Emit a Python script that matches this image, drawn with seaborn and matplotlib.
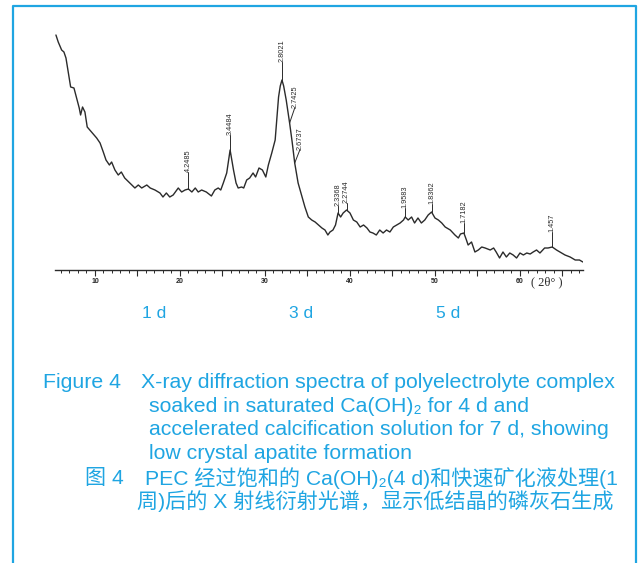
# XRD spectrum of PEC after Ca(OH)2 soak + accelerated calcification
# Recreated from a journal figure: curve, d-spacing labels, caption.

import numpy as np
import pandas as pd
import matplotlib
matplotlib.use("Agg")
import matplotlib.pyplot as plt
from matplotlib.lines import Line2D
import seaborn as sns

# ── Data ──────────────────────────────────────────────────────────────────────
two_theta = [5.41, 5.68, 6.08, 6.35, 6.59, 6.86, 7.14, 7.53, 7.84, 8.15, 8.31, 8.54,
             8.82, 9.09, 9.6, 10.2, 10.6, 10.98, 11.3, 11.7, 11.96, 12.35, 12.74, 13.1,
             13.5, 14.1, 14.7, 15.1, 15.5, 16.1, 16.5, 17.06, 17.65, 18.0, 18.4, 18.8,
             19.2, 19.8, 20.2, 20.6, 21.0, 21.4, 21.8, 22.15, 22.55, 23.1, 23.7, 24.1,
             24.5, 24.8, 25.1, 25.5, 25.9, 26.3, 26.6, 26.85, 27.25, 27.5, 27.85, 28.2,
             28.6, 28.9, 29.3, 29.7, 30.1, 30.4, 30.8, 31.2, 31.4, 31.6, 31.8, 32.0,
             32.2, 32.5, 32.9, 33.2, 33.5, 33.9, 34.3, 34.7, 35.1, 35.5, 35.9, 36.3,
             36.7, 37.06, 37.4, 37.65, 38.0, 38.3, 38.6, 38.9, 39.2, 39.6, 40.0, 40.4,
             40.8, 41.2, 41.6, 42.0, 42.35, 42.7, 43.1, 43.5, 43.9, 44.3, 44.7, 45.1,
             45.5, 45.9, 46.3, 46.5, 46.85, 47.25, 47.6, 48.0, 48.4, 48.8, 49.2, 49.6,
             50.0, 50.4, 50.8, 51.2, 51.8, 52.35, 52.75, 53.0, 53.4, 53.7, 53.9, 54.3,
             54.7, 55.1, 55.5, 55.9, 56.5, 56.9, 57.2, 57.6, 58.0, 58.4, 58.8, 59.2,
             59.6, 60.0, 60.4, 60.8, 61.2, 61.55, 61.95, 62.35, 62.9, 63.3, 63.8, 64.3,
             64.7, 65.3, 65.9, 66.5, 67.0, 67.4]
intensity = [235, 228, 220, 218, 212, 198, 183, 182, 172, 162, 155, 163,
             158, 143, 138, 132, 127, 118, 110, 105, 108, 100, 95, 98,
             92, 87, 82, 85, 82, 85, 82, 80, 77, 73, 77, 73,
             75, 82, 78, 80, 81, 78, 82, 78, 80, 78, 74, 80,
             82, 80, 87, 97, 120, 100, 87, 82, 83, 82, 90, 92,
             97, 93, 102, 100, 93, 105, 117, 130, 152, 173, 184, 190,
             184, 170, 147, 128, 107, 87, 75, 63, 53, 50, 48, 45,
             42, 40, 35, 38, 40, 45, 57, 53, 57, 60, 57, 50,
             48, 43, 45, 42, 38, 37, 35, 40, 37, 40, 38, 43,
             45, 47, 50, 53, 50, 53, 47, 52, 47, 50, 55, 58,
             52, 50, 47, 43, 40, 35, 32, 36, 37, 30, 25, 28,
             18, 20, 23, 22, 20, 22, 18, 12, 18, 13, 17, 15,
             12, 17, 15, 17, 16, 18, 20, 17, 22, 22, 23, 20,
             18, 15, 13, 10, 10, 8]

peak_d = ["4.2485", "3.4484", "2.8021", "2.7425", "2.6737", "2.3368",
          "2.2744", "1.9583", "1.8362", "1.7182", "1.457"]
peak_pos = [21.0, 25.9, 32.0, 32.9, 33.5, 38.6, 39.6, 46.5, 49.6, 53.4, 63.8]

stage_labels = ["1 d", "3 d", "5 d"]

caption_en = ["Figure 4",
              "X-ray diffraction spectra of polyelectrolyte complex",
              "soaked in saturated Ca(OH)\u2082 for 4 d and",
              "accelerated calcification solution for 7 d, showing",
              "low crystal apatite formation"]
caption_zh = ["图 4",
              "PEC 经过饱和的 Ca(OH)\u2082(4 d)和快速矿化液处理(1",
              "周)后的 X 射线衍射光谱，显示低结晶的磷灰石生成"]

# label layout: vertical rise of the leader (px) and sideways shift (deg)
label_rise = [17, 15, 18, 15, 13, 7, 7, 9, 8, 10, 15]
label_shift = [0, 0, 0, 0.6, 0.6, 0, 0, 0, 0, 0, 0]

BLUE = "#1FA5E2"
INK = "#2b2b2b"
W, H = 638, 563

sns.set_style("white")
plt.rcParams["font.family"] = ["Liberation Sans", "Noto Sans CJK SC", "DejaVu Sans"]

df = pd.DataFrame({"two_theta": two_theta, "intensity": intensity})

fig = plt.figure(figsize=(W / 100, H / 100), dpi=100)
ax = fig.add_axes([55 / W, (H - 270) / H, 528.3 / W, 250 / H])

sns.lineplot(data=df, x="two_theta", y="intensity", ax=ax, estimator=None,
             color=INK, linewidth=1.0)

ax.set_xlim(5.3, 67.45)
ax.set_ylim(0, 250)
ax.set_xlabel("")
ax.set_ylabel("")
ax.set_yticks([])
for side in ["left", "right", "top"]:
    ax.spines[side].set_visible(False)
ax.spines["bottom"].set_color(INK)
ax.spines["bottom"].set_linewidth(1.0)

ax.set_xticks(np.arange(10, 66, 5))
ax.set_xticklabels([str(v) if v % 10 == 0 else "" for v in range(10, 66, 5)])
ax.set_xticks(np.arange(6, 68, 1), minor=True)
ax.tick_params(axis="x", which="both", bottom=True)
ax.tick_params(axis="x", which="major", direction="out", length=4, width=0.8,
               color=INK, labelsize=5, pad=2)
ax.tick_params(axis="x", which="minor", direction="out", length=2.2, width=0.7, color=INK)
for lab in ax.get_xticklabels():
    lab.set_fontweight("bold")

ax.text(63.2, -12, "( 2θ° )", fontsize=9, family="Liberation Serif",
        ha="center", va="center", color=INK)

# d-spacing labels with leader lines
xs, ys = df["two_theta"].to_numpy(), df["intensity"].to_numpy()
for d, p, rise, dx in zip(peak_d, peak_pos, label_rise, label_shift):
    y0 = np.interp(p, xs, ys)
    ax.plot([p, p + dx], [y0, y0 + rise], color=INK, lw=0.7)
    ax.text(p + dx, y0 + rise, d, rotation=90, ha="center", va="bottom",
            fontsize=5.3, color=INK)

# stage labels under the axis
for lab, cx in zip(stage_labels, [154, 301, 448]):
    fig.text(cx / W, 1 - 314 / H, lab, color=BLUE, fontsize=12.5,
             ha="center", va="center")

# caption
fig.text(43 / W, 1 - 382 / H, caption_en[0], color=BLUE, fontsize=15.3, va="center")
fig.text(141 / W, 1 - 382 / H, caption_en[1], color=BLUE, fontsize=15.3, va="center")
for i, line in enumerate(caption_en[2:]):
    fig.text(149 / W, 1 - (406 + 23.7 * i) / H, line, color=BLUE,
             fontsize=15.3, va="center")
fig.text(85 / W, 1 - 478 / H, caption_zh[0], color=BLUE, fontsize=15.2, va="center")
fig.text(145 / W, 1 - 478 / H, caption_zh[1], color=BLUE, fontsize=15.2, va="center")
fig.text(137 / W, 1 - 501 / H, caption_zh[2], color=BLUE, fontsize=15.2, va="center")

# frame lines (left, top, right)
fig.add_artist(Line2D([13 / W, 13 / W, 636 / W, 636 / W],
                      [0, 1 - 6 / H, 1 - 6 / H, 0],
                      transform=fig.transFigure, color=BLUE, lw=1.6))

fig.savefig("out.png", dpi=100)
